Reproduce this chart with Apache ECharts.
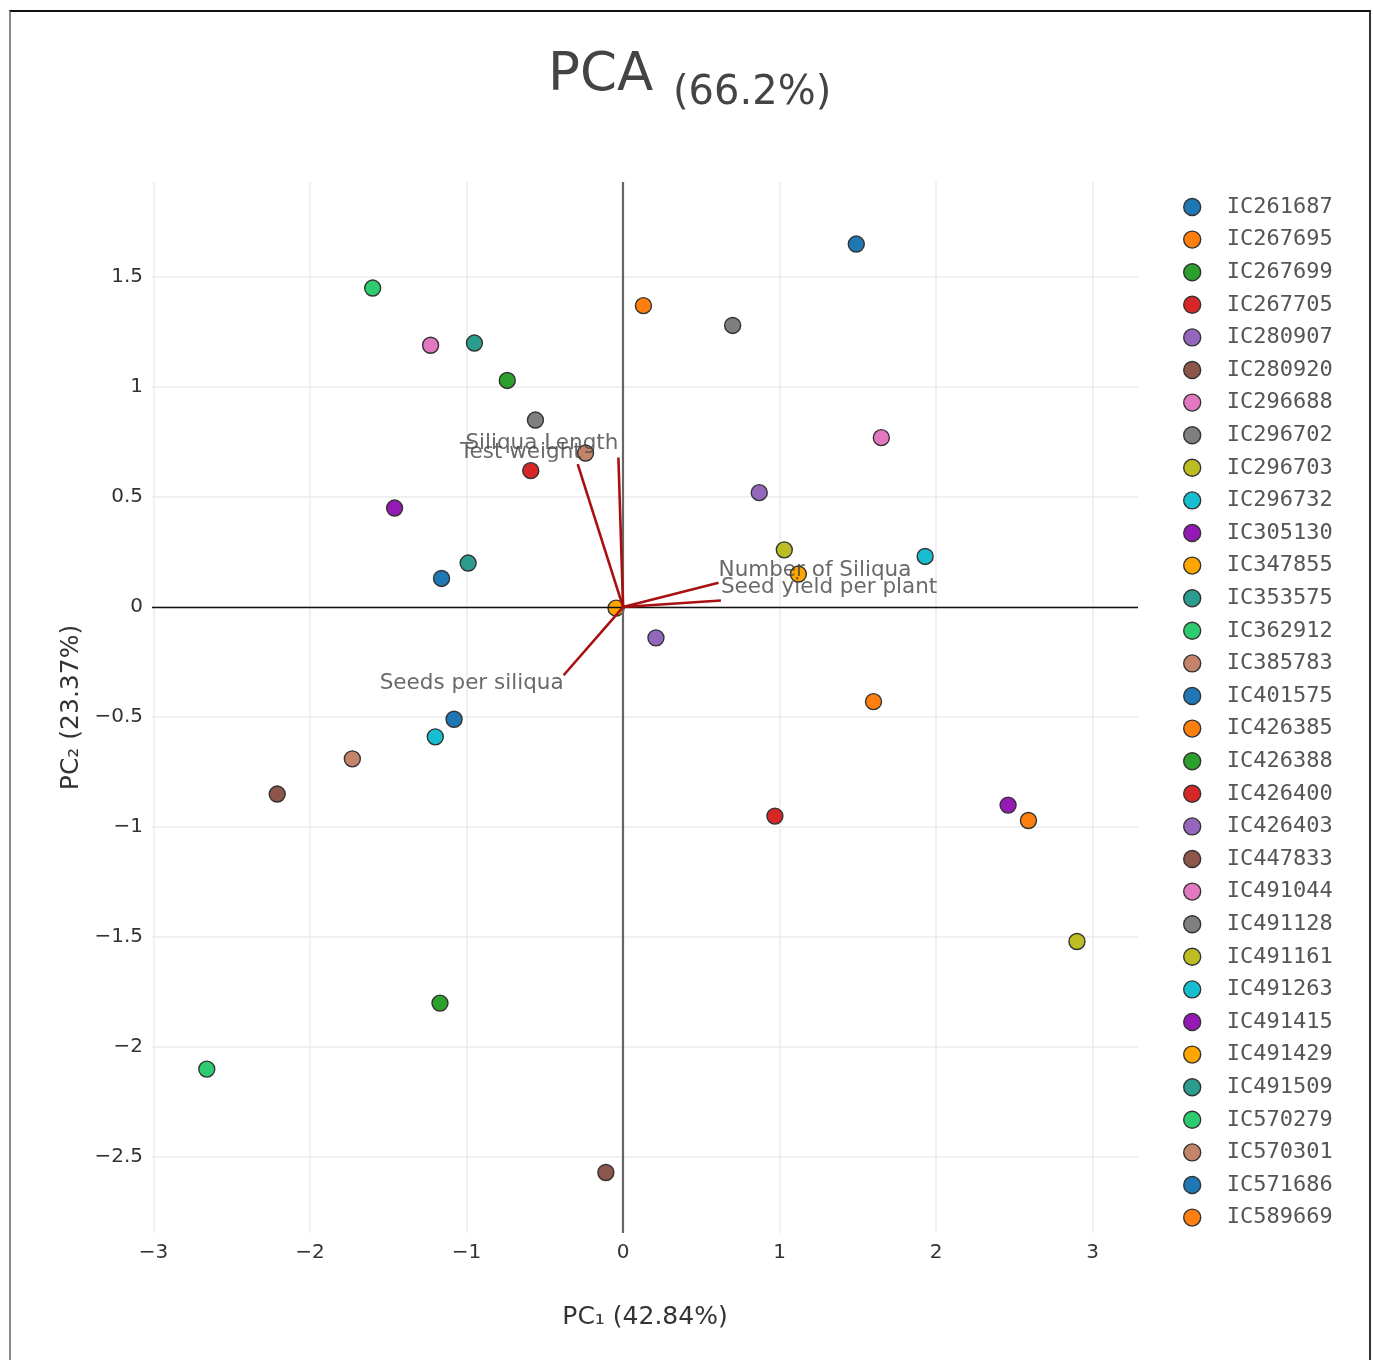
<!DOCTYPE html>
<html>
<head>
<meta charset="utf-8">
<title>PCA biplot</title>
<script src="https://cdn.jsdelivr.net/npm/echarts@6/dist/echarts.min.js"></script>
<style>
  html, body { margin: 0; padding: 0; background: #fff; }
  #chart { position: absolute; left: 0; top: 0; width: 1373px; height: 1360px; }
  #frame { position: absolute; left: 9px; top: 10px; width: 1358px; height: 1360px;
           border-top: 2px solid #111; border-left: 2px solid #888; border-right: 2px solid #333; pointer-events: none; }
</style>
</head>
<body>
<div id="chart"></div>
<div id="frame"></div>
<script>
// Genotype scores (PC1, PC2), in legend order
var genotypes = ['IC261687', 'IC267695', 'IC267699', 'IC267705', 'IC280907', 'IC280920', 'IC296688', 'IC296702',
  'IC296703', 'IC296732', 'IC305130', 'IC347855', 'IC353575', 'IC362912', 'IC385783', 'IC401575',
  'IC426385', 'IC426388', 'IC426400', 'IC426403', 'IC447833', 'IC491044', 'IC491128', 'IC491161',
  'IC491263', 'IC491415', 'IC491429', 'IC491509', 'IC570279', 'IC570301', 'IC571686', 'IC589669'];
var pc1 = [1.49, 0.13, -0.74, -0.59, 0.87, -2.21, -1.23, 0.70,
  1.03, 1.93, -1.46, 1.12, -0.95, -1.60, -0.24, -1.16,
  1.60, -1.17, 0.97, 0.21, -0.11, 1.65, -0.56, 2.90,
  -1.20, 2.46, -0.045, -0.99, -2.66, -1.73, -1.08, 2.59];
var pc2 = [1.65, 1.37, 1.03, 0.62, 0.52, -0.85, 1.19, 1.28,
  0.26, 0.23, 0.45, 0.15, 1.20, 1.45, 0.70, 0.13,
  -0.43, -1.80, -0.95, -0.14, -2.57, 0.77, 0.85, -1.52,
  -0.59, -0.90, -0.005, 0.20, -2.10, -0.69, -0.51, -0.97];
var palette = ['#1f77b4', '#ff7f0e', '#2ca02c', '#d62728', '#9467bd', '#8c564b', '#e377c2', '#7f7f7f',
  '#bcbd22', '#17becf', '#9419b5', '#ffa500', '#2a9d8f', '#2ecc71', '#c4846a'];

// Trait loadings
var traits = ['Siliqua Length', 'Test weight', 'Number of Siliqua', 'Seed yield per plant', 'Seeds per siliqua'];
var loadX = [-0.03, -0.29, 0.61, 0.625, -0.38];
var loadY = [0.68, 0.65, 0.11, 0.03, -0.31];

var xTicks = [-3, -2, -1, 0, 1, 2, 3];
var yTicks = [-2.5, -2, -1.5, -1, -0.5, 0, 0.5, 1, 1.5];

// where each trait name sits relative to its arrow tip
var traitLabel = {
  'Siliqua Length': { position: 'left', offset: [0, -14] },
  'Test weight': { position: 'left', offset: [4, -12] },
  'Number of Siliqua': { position: 'right', offset: [0, -12] },
  'Seed yield per plant': { position: 'right', offset: [0, -13] },
  'Seeds per siliqua': { position: 'left', offset: [0, 8] }
};

var FONT = 'DejaVu Sans, Verdana, sans-serif';
var minus = function(v) { return String(v).replace('-', '\u2212'); };

var series = [];

// zero lines
series.push({
  type: 'scatter', name: '_zero', data: [], silent: true, z: 1,
  markLine: {
    silent: true, symbol: 'none', label: { show: false }, animation: false,
    data: [
      { xAxis: 0, lineStyle: { color: '#666', width: 2.2, type: 'solid' } },
      { yAxis: 0, lineStyle: { color: '#111', width: 1.3, type: 'solid' } }
    ]
  }
});

genotypes.forEach(function(g, i) {
  series.push({
    type: 'scatter', name: g, z: 3,
    symbol: 'circle', symbolSize: 16,
    itemStyle: { color: palette[i % palette.length], borderColor: '#333', borderWidth: 1.4, opacity: 1 },
    data: [[pc1[i], pc2[i]]]
  });
});

traits.forEach(function(t, i) {
  series.push({
    type: 'line', name: t, z: 5, silent: true,
    symbol: 'none',
    lineStyle: { color: '#a81010', width: 2.6 },
    data: [[0, 0], [loadX[i], loadY[i]]]
  });
});

series.push({
  type: 'scatter', name: '_traitLabels', z: 6, silent: true,
  symbolSize: 0,
  data: traits.map(function(t, i) {
    return {
      name: t, value: [loadX[i], loadY[i]],
      label: { show: true, position: traitLabel[t].position, offset: traitLabel[t].offset, distance: 0 }
    };
  }),
  label: { formatter: '{b}', color: '#444', fontFamily: FONT, fontSize: 21.5 }
});

var chart = echarts.init(document.getElementById('chart'));
chart.setOption({
  animation: false,
  backgroundColor: '#fff',
  graphic: [
    { type: 'text', left: 548, top: 50, style: { text: 'PCA', font: '53px ' + FONT, fill: '#444' } },
    { type: 'text', left: 673, top: 74, style: { text: '(66.2%)', font: '40px ' + FONT, fill: '#444' } }
  ],
  grid: { left: 152, right: 235, top: 182, bottom: 127 },
  xAxis: {
    type: 'value', min: -3.01, max: 3.29,
    name: 'PC\u2081 (42.84%)', nameLocation: 'middle', nameGap: 72,
    nameTextStyle: { color: '#333', fontFamily: FONT, fontSize: 25 },
    axisLine: { show: false }, axisTick: { show: false, customValues: xTicks },
    axisLabel: { customValues: xTicks, formatter: minus, color: '#333', fontFamily: FONT, fontSize: 20, margin: 10 },
    splitLine: { show: true, lineStyle: { color: '#ebebeb', width: 1.5 } }
  },
  yAxis: {
    type: 'value', min: -2.845, max: 1.932,
    name: 'PC\u2082 (23.37%)', nameLocation: 'middle', nameGap: 66, nameRotate: 90,
    nameTextStyle: { color: '#333', fontFamily: FONT, fontSize: 25 },
    axisLine: { show: false }, axisTick: { show: false, customValues: yTicks },
    axisLabel: { customValues: yTicks, formatter: minus, color: '#333', fontFamily: FONT, fontSize: 20, margin: 9 },
    splitLine: { show: true, lineStyle: { color: '#ebebeb', width: 1.5 } }
  },
  legend: {
    orient: 'vertical', left: 1178, top: 191,
    data: genotypes.map(function(g) { return { name: g, icon: 'circle' }; }),
    itemWidth: 17, itemHeight: 17, itemGap: 10.6,
    itemStyle: { borderColor: '#333', borderWidth: 1.4 },
    textStyle: { color: '#555', fontFamily: 'DejaVu Sans Mono, monospace', fontSize: 22, lineHeight: 20, padding: [0, 0, 0, 21] },
    selectedMode: false
  },
  series: series
});
</script>
</body>
</html>
